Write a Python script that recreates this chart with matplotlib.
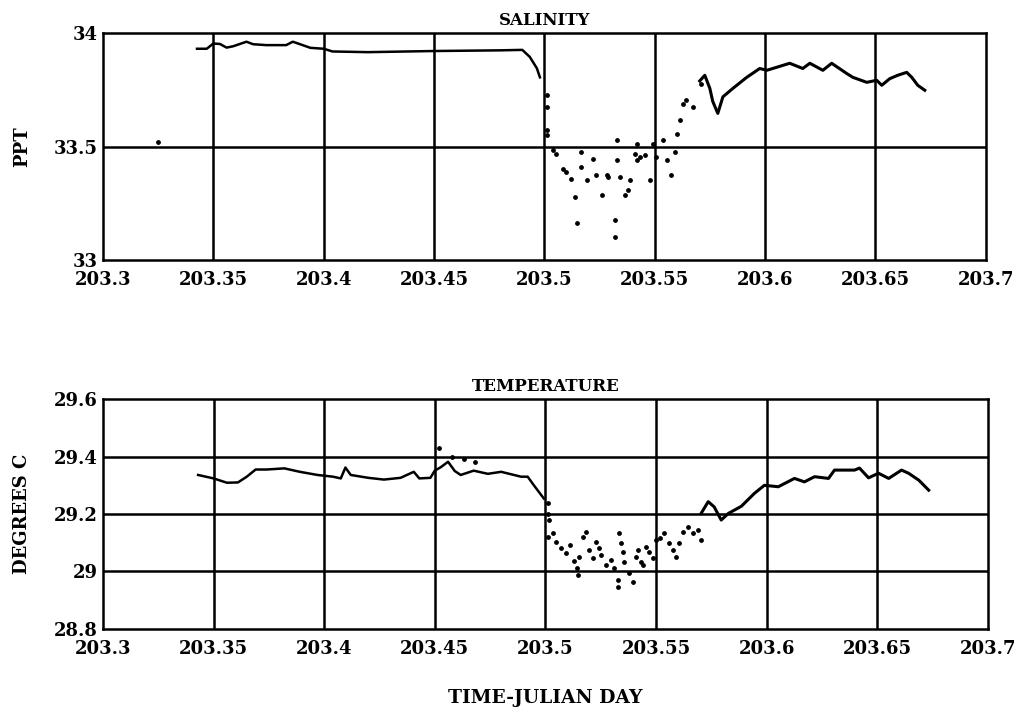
import matplotlib.pyplot as plt

# salinity: smooth trace before the front
sal_x = [203.3426, 203.347, 203.350, 203.353, 203.356, 203.359, 203.365, 203.368,
         203.374, 203.383, 203.386, 203.389, 203.394, 203.400, 203.404, 203.420,
         203.450, 203.480, 203.490, 203.4934, 203.4966, 203.498]
sal_y = [33.932, 33.932, 33.955, 33.953, 33.937, 33.943, 33.963, 33.952,
         33.948, 33.948, 33.963, 33.953, 33.936, 33.932, 33.920, 33.917,
         33.922, 33.925, 33.927, 33.896, 33.846, 33.806]

# salinity: noisy points inside the front
sal_dot_x = [203.501, 203.501, 203.501, 203.501, 203.504, 203.5055, 203.5085, 203.510,
             203.5123, 203.5138, 203.5146, 203.5168, 203.5168, 203.5191, 203.5221,
             203.5236, 203.5259, 203.5282, 203.5289, 203.5319, 203.5319, 203.5327,
             203.5342, 203.5365, 203.538, 203.5387, 203.541, 203.5418, 203.5433,
             203.5455, 203.5478, 203.5493, 203.5508, 203.5538, 203.5554, 203.5576,
             203.5591, 203.5599, 203.5614, 203.5629, 203.5644, 203.5674, 203.5712,
             203.325, 203.533, 203.542]
sal_dot_y = [33.727, 33.675, 33.573, 33.55, 33.485, 33.47, 33.404, 33.389,
             33.36, 33.279, 33.162, 33.477, 33.411, 33.352, 33.448,
             33.374, 33.286, 33.374, 33.367, 33.176, 33.103, 33.441,
             33.367, 33.286, 33.308, 33.352, 33.47, 33.441, 33.455,
             33.463, 33.352, 33.514, 33.455, 33.529, 33.441, 33.374,
             33.477, 33.558, 33.617, 33.69, 33.705, 33.675, 33.778,
             33.52, 33.53, 33.51]

# salinity: trace after recovery
sal2_x = [203.5704, 203.5727, 203.575, 203.5763, 203.5786, 203.5809, 203.5854,
          203.5917, 203.5976, 203.6008, 203.6112, 203.6171, 203.6203, 203.6262,
          203.6302, 203.637, 203.6398, 203.6461, 203.6506, 203.6529, 203.6565,
          203.6601, 203.6642, 203.6665, 203.6692, 203.6724]
sal2_y = [33.79, 33.815, 33.757, 33.70, 33.647, 33.72, 33.757,
          33.806, 33.845, 33.837, 33.868, 33.845, 33.868, 33.837,
          33.868, 33.823, 33.806, 33.784, 33.793, 33.771, 33.80,
          33.815, 33.828, 33.806, 33.771, 33.749]

# temperature: trace before the front
tmp_x = [203.343, 203.350, 203.356, 203.361, 203.365, 203.369, 203.374, 203.382,
         203.389, 203.397, 203.404, 203.4075, 203.4096, 203.412, 203.420, 203.427,
         203.4345, 203.4405, 203.443, 203.448, 203.450, 203.4527, 203.456, 203.459,
         203.4617, 203.4676, 203.474, 203.480, 203.489, 203.492, 203.4948, 203.4993]
tmp_y = [29.336, 29.324, 29.309, 29.31, 29.33, 29.355, 29.355, 29.359,
         29.347, 29.336, 29.33, 29.324, 29.362, 29.336, 29.326, 29.32,
         29.326, 29.347, 29.324, 29.326, 29.351, 29.363, 29.382, 29.35,
         29.336, 29.351, 29.34, 29.347, 29.33, 29.33, 29.30, 29.254]

# temperature: noisy points inside the front
tmp_dot_x = [203.501, 203.501, 203.501, 203.5017, 203.5033, 203.5048, 203.507, 203.5093,
             203.5112, 203.5128, 203.5143, 203.5146, 203.5153, 203.5168, 203.5183,
             203.5199, 203.5214, 203.5229, 203.5244, 203.5251, 203.5274, 203.5297,
             203.5312, 203.5327, 203.5327, 203.5334, 203.5342, 203.535, 203.5357,
             203.538, 203.5395, 203.541, 203.5418, 203.5433, 203.544, 203.5455,
             203.547, 203.5486, 203.5501, 203.5516, 203.5538, 203.5561, 203.5576,
             203.5591, 203.5606, 203.5621, 203.5644, 203.5667, 203.5689, 203.5704,
             203.452, 203.458, 203.463, 203.468]
tmp_dot_y = [29.238, 29.2, 29.12, 29.179, 29.133, 29.104, 29.081, 29.063,
             29.092, 29.035, 29.011, 28.988, 29.051, 29.121, 29.138,
             29.075, 29.046, 29.104, 29.081, 29.057, 29.023, 29.040,
             29.011, 28.970, 28.947, 29.133, 29.098, 29.069, 29.034,
             28.994, 28.964, 29.051, 29.075, 29.034, 29.023, 29.086,
             29.069, 29.046, 29.110, 29.115, 29.133, 29.098, 29.075,
             29.051, 29.098, 29.138, 29.156, 29.133, 29.144, 29.110,
             29.43, 29.40, 29.39, 29.38]

# temperature: trace after recovery
tmp2_x = [203.5704, 203.5736, 203.5763, 203.5795, 203.5827, 203.5886, 203.5945,
          203.599, 203.6053, 203.6126, 203.6171, 203.6217, 203.628, 203.6307,
          203.6398, 203.642, 203.6461, 203.6506, 203.6552, 203.661, 203.6642,
          203.6688, 203.6733]
tmp2_y = [29.202, 29.243, 29.225, 29.179, 29.202, 29.227, 29.272,
          29.30, 29.295, 29.324, 29.312, 29.33, 29.324, 29.353,
          29.353, 29.36, 29.326, 29.342, 29.324, 29.353, 29.342,
          29.318, 29.283]

x_ticks = [203.3, 203.35, 203.4, 203.45, 203.5, 203.55, 203.6, 203.65, 203.7]
x_labels = ["203.3", "203.35", "203.4", "203.45", "203.5", "203.55", "203.6", "203.65", "203.7"]
sal_ticks = [33, 33.5, 34]
sal_labels = ["33", "33.5", "34"]
tmp_ticks = [28.8, 29.0, 29.2, 29.4, 29.6]
tmp_labels = ["28.8", "29", "29.2", "29.4", "29.6"]

FONT = "DejaVu Serif"

fig = plt.figure(figsize=(10.3, 7.09), dpi=100)
ax1 = fig.add_axes([0.1, 0.633, 0.857, 0.320])
ax2 = fig.add_axes([0.1, 0.113, 0.859, 0.324])


def style(ax, yticks, ylabels, ylim, title, ylabel):
    ax.set_xlim(203.3, 203.7)
    ax.set_ylim(*ylim)
    ax.set_xticks(x_ticks)
    ax.set_xticklabels(x_labels, fontfamily=FONT, fontweight="bold", fontsize=13)
    ax.set_yticks(yticks)
    ax.set_yticklabels(ylabels, fontfamily=FONT, fontweight="bold", fontsize=13)
    ax.tick_params(axis="x", length=0, pad=8)
    ax.tick_params(axis="y", length=0, pad=4)
    for v in x_ticks[1:-1]:
        ax.axvline(v, color="black", lw=1.8, zorder=1)
    for v in yticks[1:-1]:
        ax.axhline(v, color="black", lw=1.8, zorder=1)
    for s in ax.spines.values():
        s.set_linewidth(1.8)
    ax.set_title(title, fontfamily=FONT, fontweight="bold", fontsize=12, pad=6)
    ax.set_ylabel(ylabel, fontfamily=FONT, fontweight="bold", fontsize=13, labelpad=16)


style(ax1, sal_ticks, sal_labels, (33, 34), "SALINITY", "PPT")
ax1.plot(sal_x, sal_y, color="black", lw=1.8, zorder=3)
ax1.plot(sal2_x, sal2_y, color="black", lw=2.2, zorder=3)
ax1.scatter(sal_dot_x, sal_dot_y, s=6, color="black", zorder=3)

style(ax2, tmp_ticks, tmp_labels, (28.8, 29.6), "TEMPERATURE", "DEGREES C")
ax2.plot(tmp_x, tmp_y, color="black", lw=1.8, zorder=3)
ax2.plot(tmp2_x, tmp2_y, color="black", lw=2.2, zorder=3)
ax2.scatter(tmp_dot_x, tmp_dot_y, s=6, color="black", zorder=3)
ax2.set_xlabel("TIME-JULIAN DAY", fontfamily=FONT, fontweight="bold", fontsize=13.5, labelpad=22)

fig.savefig("out.png", dpi=100)
